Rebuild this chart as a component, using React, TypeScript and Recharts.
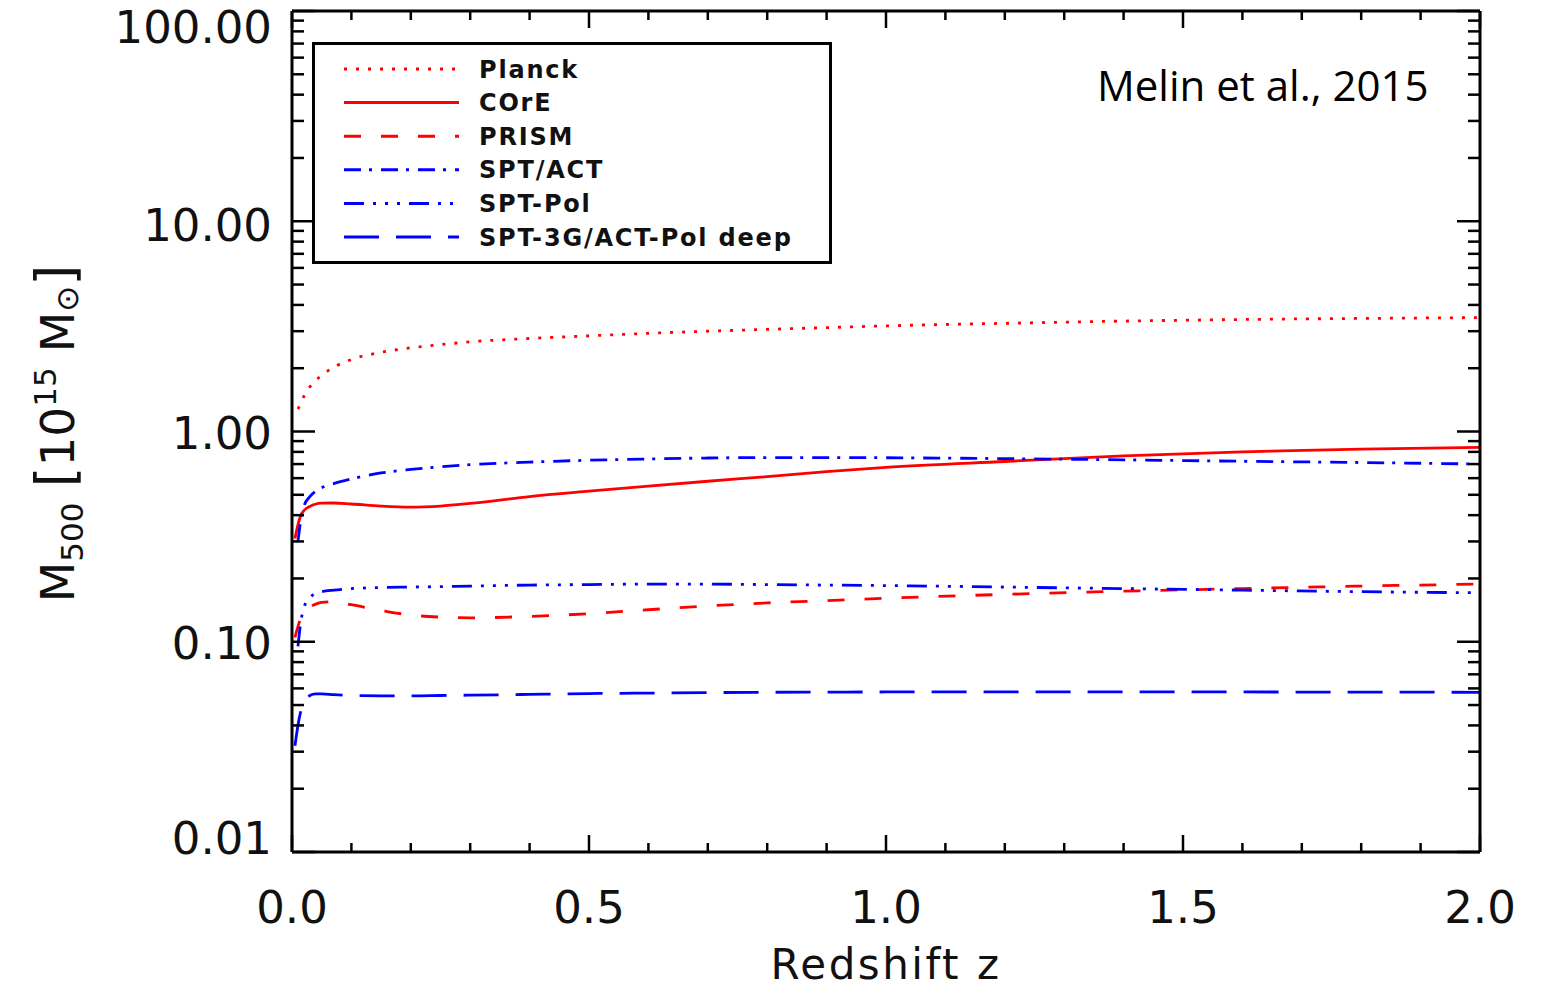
import { LineChart, Line, XAxis, YAxis, Legend, Label } from "recharts";

// redshift grid shared by all curves
const zValues = [
  0.005, 0.01, 0.015, 0.02, 0.03, 0.04, 0.05, 0.07, 0.1, 0.15, 0.2, 0.25, 0.3,
  0.4, 0.5, 0.6, 0.7, 0.8, 0.9, 1.0, 1.2, 1.4, 1.6, 1.8, 2.0,
];

// M500 limits in 1e15 Msun
const planck = [
  null, 1.28, 1.36, 1.47, 1.63, 1.75, 1.85, 2.02, 2.2, 2.38, 2.5, 2.59, 2.67,
  2.77, 2.85, 2.93, 3.0, 3.06, 3.12, 3.18, 3.27, 3.35, 3.41, 3.45, 3.48,
];
const core = [
  0.31, 0.36, 0.4, 0.42, 0.44, 0.452, 0.456, 0.457, 0.452, 0.442, 0.437, 0.442,
  0.455, 0.49, 0.52, 0.55, 0.58, 0.61, 0.645, 0.675, 0.72, 0.765, 0.8, 0.825,
  0.84,
];
const prism = [
  0.105, 0.118, 0.13, 0.138, 0.146, 0.151, 0.154, 0.155, 0.15, 0.141, 0.134,
  0.131, 0.13, 0.132, 0.136, 0.142, 0.148, 0.153, 0.157, 0.161, 0.168, 0.174,
  0.179, 0.184, 0.188,
];
const sptAct = [
  null, 0.3, 0.38, 0.44, 0.49, 0.52, 0.54, 0.565, 0.595, 0.635, 0.66, 0.68,
  0.695, 0.715, 0.73, 0.74, 0.748, 0.752, 0.752, 0.75, 0.743, 0.733, 0.722,
  0.712, 0.7,
];
const sptPol = [
  null, 0.095, 0.125, 0.145, 0.162, 0.17, 0.173, 0.176, 0.179, 0.181, 0.182,
  0.183, 0.184, 0.186, 0.187, 0.188, 0.188, 0.187, 0.186, 0.185, 0.182, 0.179,
  0.176, 0.173, 0.171,
];
const spt3g = [
  0.032, 0.04, 0.047, 0.052, 0.0555, 0.0565, 0.0565, 0.056, 0.0555, 0.0553,
  0.0553, 0.0555, 0.0557, 0.0562, 0.0567, 0.057, 0.0573, 0.0575, 0.0576,
  0.0577, 0.0578, 0.0578, 0.0577, 0.0576, 0.0575,
];

const xTicks = [
  0, 0.1, 0.2, 0.3, 0.4, 0.5, 0.6, 0.7, 0.8, 0.9, 1.0, 1.1, 1.2, 1.3, 1.4, 1.5,
  1.6, 1.7, 1.8, 1.9, 2.0,
];
const yDecades = [0.01, 0.1, 1, 10];
const yTicks = [
  ...yDecades.flatMap((d) =>
    [1, 2, 3, 4, 5, 6, 7, 8, 9].map((k) => +(k * d).toPrecision(2))
  ),
  100,
];

const RED = "#ff0000";
const BLUE = "#0000ff";
const FONT = "DejaVu Sans";

const series = [
  { key: "planck", name: "Planck", color: RED, dash: "3 9" },
  { key: "core", name: "COrE", color: RED, dash: undefined },
  { key: "prism", name: "PRISM", color: RED, dash: "17 20" },
  { key: "sptAct", name: "SPT/ACT", color: BLUE, dash: "17 8 3 9" },
  { key: "sptPol", name: "SPT-Pol", color: BLUE, dash: "20 9 3 9 3 9 3 9" },
  { key: "spt3g", name: "SPT-3G/ACT-Pol deep", color: BLUE, dash: "35 17" },
];

const data = zValues.map((z, i) => ({
  z,
  planck: planck[i],
  core: core[i],
  prism: prism[i],
  sptAct: sptAct[i],
  sptPol: sptPol[i],
  spt3g: spt3g[i],
}));

const isDecade = (v: number) =>
  Math.abs(Math.log10(v) - Math.round(Math.log10(v))) < 1e-6;
const isHalf = (v: number) => Math.abs(v * 2 - Math.round(v * 2)) < 1e-6;

// IDL nudges the end labels inward
const labelNudge = (v: number) => {
  const e = Math.round(Math.log10(v));
  if (e === 2) return 16;
  if (e === -2) return -14;
  if (e === 1) return 4;
  return 1;
};

// ticks point into the plot on every side, like the IDL box
function LeftTick({ x, y, payload }: any) {
  const major = isDecade(payload.value);
  return (
    <g>
      <line x1={x} x2={x + (major ? 23 : 12)} y1={y} y2={y} stroke="#000" strokeWidth={2.5} />
      {major && (
        <text
          x={x - 20}
          y={y + labelNudge(payload.value)}
          dy="0.36em"
          textAnchor="end"
          fontFamily={FONT}
          fontSize={45}
          fill="#111"
        >
          {payload.value.toFixed(2)}
        </text>
      )}
    </g>
  );
}

function RightTick({ x, y, payload }: any) {
  const major = isDecade(payload.value);
  return <line x1={x} x2={x - (major ? 23 : 12)} y1={y} y2={y} stroke="#000" strokeWidth={2.5} />;
}

function BottomTick({ x, y, payload }: any) {
  const major = isHalf(payload.value);
  return (
    <g>
      <line x1={x} x2={x} y1={y} y2={y - (major ? 17 : 9)} stroke="#000" strokeWidth={2.5} />
      {major && (
        <text x={x} y={y + 71} textAnchor="middle" fontFamily={FONT} fontSize={45} fill="#111">
          {payload.value.toFixed(1)}
        </text>
      )}
    </g>
  );
}

function TopTick({ x, y, payload }: any) {
  const major = isHalf(payload.value);
  return <line x1={x} x2={x} y1={y} y2={y + (major ? 17 : 9)} stroke="#000" strokeWidth={2.5} />;
}

function YTitle({ viewBox }: any) {
  const cy = viewBox.y + viewBox.height / 2 + 2;
  const bx = 74;
  return (
    <text
      transform={`rotate(-90, ${bx}, ${cy})`}
      x={bx}
      y={cy}
      textAnchor="middle"
      fontFamily={FONT}
      fontSize={47}
      fill="#111"
    >
      M<tspan fontSize={31} dy={9}>500</tspan>
      <tspan dy={-9}> </tspan>
      <tspan fontSize={54}>[</tspan>
      <tspan>10</tspan>
      <tspan fontSize={31} dy={-18}>15</tspan>
      <tspan dy={18}> M</tspan>
      <tspan fontSize={31} dy={4}>⊙</tspan>
      <tspan dy={-4} fontSize={54}>]</tspan>
    </text>
  );
}

function XTitle({ viewBox }: any) {
  return (
    <text
      x={viewBox.x + viewBox.width / 2}
      y={979}
      textAnchor="middle"
      fontFamily={FONT}
      fontSize={42}
      letterSpacing={2.5}
      fill="#111"
    >
      Redshift z
    </text>
  );
}

function LegendBox() {
  const rowH = 33.6;
  return (
    <svg width={520} height={222} style={{ display: "block" }}>
      <rect x={1.5} y={1.5} width={517} height={219} fill="#fff" stroke="#000" strokeWidth={3} />
      {series.map((s, i) => {
        const cy = 27 + i * rowH;
        return (
          <g key={s.key}>
            <line x1={32} x2={147} y1={cy} y2={cy} stroke={s.color} strokeWidth={3} strokeDasharray={s.dash} />
            <text
              x={167}
              y={cy}
              dy="0.36em"
              fontFamily={FONT}
              fontWeight="bold"
              fontSize={24}
              letterSpacing={1.8}
              fill="#111"
            >
              {s.name}
            </text>
          </g>
        );
      })}
    </svg>
  );
}

export default function App() {
  return (
    <div style={{ position: "absolute", left: 0, top: 0, width: 1542, height: 991, background: "#fff" }}>
      <LineChart width={1542} height={991} data={data} margin={{ top: 0, right: 0, bottom: 0, left: 0 }}>
        <XAxis
          xAxisId="b"
          dataKey="z"
          type="number"
          domain={[0, 2]}
          ticks={xTicks}
          interval={0}
          height={139}
          tickSize={0}
          tickMargin={0}
          tick={<BottomTick />}
          axisLine={{ stroke: "#000", strokeWidth: 3 }}
        >
          <Label content={<XTitle />} />
        </XAxis>
        <XAxis
          xAxisId="t"
          orientation="top"
          dataKey="z"
          type="number"
          domain={[0, 2]}
          ticks={xTicks}
          interval={0}
          height={11}
          tickSize={0}
          tickMargin={0}
          tick={<TopTick />}
          axisLine={{ stroke: "#000", strokeWidth: 3 }}
        />
        <YAxis
          yAxisId="l"
          type="number"
          scale="log"
          domain={[0.01, 100]}
          allowDataOverflow
          ticks={yTicks}
          interval={0}
          width={292}
          tickSize={0}
          tickMargin={0}
          tick={<LeftTick />}
          axisLine={{ stroke: "#000", strokeWidth: 3 }}
        >
          <Label content={<YTitle />} />
        </YAxis>
        <YAxis
          yAxisId="r"
          orientation="right"
          type="number"
          scale="log"
          domain={[0.01, 100]}
          allowDataOverflow
          ticks={yTicks}
          interval={0}
          width={62}
          tickSize={0}
          tickMargin={0}
          tick={<RightTick />}
          axisLine={{ stroke: "#000", strokeWidth: 3 }}
        />
        {series.map((s) => (
          <Line
            key={s.key}
            xAxisId="b"
            yAxisId="l"
            dataKey={s.key}
            name={s.name}
            type="monotone"
            stroke={s.color}
            strokeWidth={2.8}
            strokeDasharray={s.dash}
            dot={false}
            activeDot={false}
            isAnimationActive={false}
          />
        ))}
        <Legend
          layout="vertical"
          align="center"
          verticalAlign="middle"
          content={<LegendBox />}
          wrapperStyle={{ left: 312, top: 42, width: 520, height: 222 }}
        />
      </LineChart>
      <div
        style={{
          position: "absolute",
          left: 1097,
          top: 60,
          fontFamily: "Open Sans",
          fontSize: 42,
          lineHeight: "50px",
          color: "#000",
          whiteSpace: "nowrap",
        }}
      >
        Melin et al., 2015
      </div>
    </div>
  );
}
